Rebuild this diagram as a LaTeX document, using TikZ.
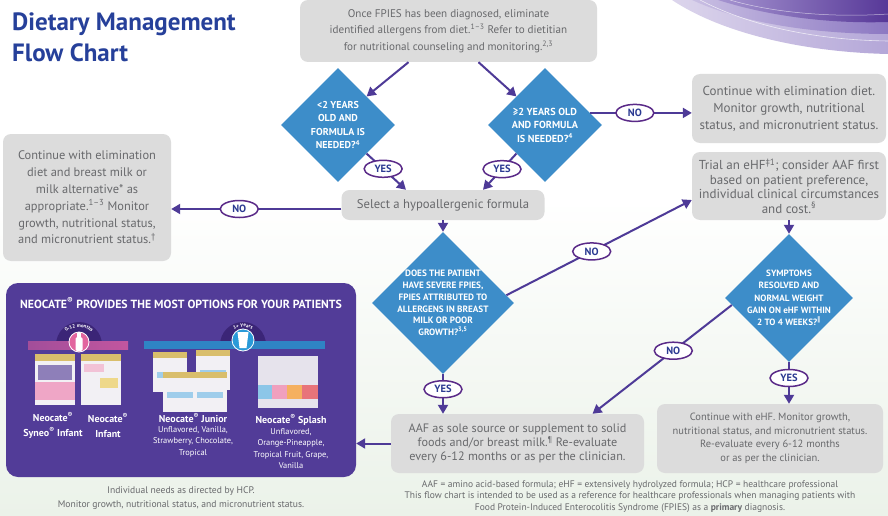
\documentclass[tikz,border=0pt]{standalone}
\usepackage{fontspec}
\setmainfont{PT Sans}
\newfontfamily\symfont{DejaVu Sans}
\usetikzlibrary{arrows.meta,shapes.geometric,decorations.text}

\definecolor{titleblue}{HTML}{26409A}
\definecolor{boxgray}{HTML}{DCDCDC}
\definecolor{textgray}{HTML}{68696C}
\definecolor{diablue}{HTML}{3D8DC9}
\definecolor{arrpurple}{HTML}{4E3A97}
\definecolor{ovalpurple}{HTML}{5A2A88}
\definecolor{yesblue}{HTML}{2B3A92}
\definecolor{panelpurple}{HTML}{523C98}
\definecolor{bggreen}{HTML}{EBF2E9}
\definecolor{swirlA}{HTML}{DCD5EC}
\definecolor{swirlB}{HTML}{B4A7D8}
\definecolor{swirlC}{HTML}{C9BFE3}
\definecolor{swirlD}{HTML}{8C78C2}
\definecolor{swirlE}{HTML}{A594D0}
\definecolor{swirlF}{HTML}{573898}
\definecolor{badgedark}{HTML}{3B2577}
\definecolor{badgepink}{HTML}{E2649E}
\definecolor{barpinkL}{HTML}{A24E9A}
\definecolor{barpinkR}{HTML}{C2569F}
\definecolor{barblue}{HTML}{2F84C4}
\definecolor{badgeblue}{HTML}{2A9AD8}
\definecolor{canwhite}{HTML}{F2F0F4}
\definecolor{cangold}{HTML}{D9BE6C}
\definecolor{synpurple}{HTML}{8E7FB9}
\definecolor{synpink}{HTML}{EFA6C6}
\definecolor{infpink}{HTML}{F2C2D6}
\definecolor{canyellow}{HTML}{EED88A}
\definecolor{jrblue}{HTML}{9FCDEB}
\definecolor{cartonwhite}{HTML}{E6E3EC}
\definecolor{splblue}{HTML}{8CC6E8}
\definecolor{splpink}{HTML}{F0A0BE}
\definecolor{splorange}{HTML}{F5B060}
\definecolor{splred}{HTML}{E8747A}

\begin{document}
\begin{tikzpicture}[x=1pt,y=-1pt,
    graybox/.style={fill=boxgray, rounded corners=8pt, text=textgray, align=center, inner sep=0pt},
    ask/.style={shape=diamond, fill=diablue, text=white, align=center, inner sep=-14pt},
    arr/.style={arrpurple, line width=2pt, -{Triangle[length=9pt,width=10pt]}},
    yesno/.style={ellipse, draw=ovalpurple, line width=1.5pt, fill=white, text=yesblue,
        font=\fontsize{10.5}{10.5}\selectfont\bfseries, minimum width=38pt, minimum height=17pt, inner sep=0pt},
    prodname/.style={text=white, align=center, inner sep=0pt, font=\fontsize{10}{14.5}\selectfont\bfseries},
    prodflav/.style={text=white, align=center, inner sep=0pt, anchor=north, font=\fontsize{8.4}{11.5}\selectfont},
    note/.style={text=textgray, align=center, inner sep=0pt}]

\useasboundingbox (0,0) rectangle (888,516);
\fill[white] (0,0) rectangle (888,200);
\shade[top color=white, bottom color=bggreen] (0,199) rectangle (888,516);

% swirl top right
\shade[left color=swirlA, right color=swirlB] (672,0) .. controls (720,32) and (800,52) .. (888,54) -- (888,0) -- cycle;
\shade[left color=swirlC, right color=swirlD] (692,0) .. controls (740,22) and (810,34) .. (888,34) -- (888,0) -- cycle;
\shade[left color=swirlE, right color=swirlF] (718,0) .. controls (765,15) and (825,24) .. (888,22) -- (888,0) -- cycle;
\draw[white, line width=0.6pt, opacity=0.7] (700,0) .. controls (750,26) and (815,40) .. (888,41);
\draw[white, line width=0.5pt, opacity=0.6] (730,0) .. controls (770,12) and (830,18) .. (888,14);

\node[anchor=north west, inner sep=0pt, align=left, text=titleblue, font=\fontsize{25}{31}\selectfont\bfseries] (title) at (12,12.5) {Dietary Management\\Flow Chart};

\node[graybox, minimum width=297pt, minimum height=62pt, font=\fontsize{11.1}{16.5}\selectfont] (diag) at (448.5,31)
    {Once FPIES has been diagnosed, eliminate\\identified allergens from diet.\textsuperscript{1–3} Refer to dietitian\\for nutritional counseling and monitoring.\textsuperscript{2,3}};
\node[ask, minimum size=114pt, font=\fontsize{10}{13.5}\selectfont\bfseries] (young) at (338,125) {<2 YEARS\\OLD AND\\FORMULA IS\\NEEDED?\textsuperscript{4}};
\node[ask, minimum size=114pt, font=\fontsize{10.2}{13.5}\selectfont\bfseries] (older) at (545,125) {≥2 YEARS OLD\\AND FORMULA\\IS NEEDED?\textsuperscript{4}};
\node[graybox, minimum width=194pt, minimum height=69pt, font=\fontsize{13}{17}\selectfont] (contelim) at (789,108.5)
    {Continue with elimination diet.\\Monitor growth, nutritional\\status, and micronutrient status.};
\node[graybox, minimum width=194pt, minimum height=68pt, font=\fontsize{13}{14.5}\selectfont] (trial) at (789,186)
    {Trial an eHF\textsuperscript{‡1}; consider AAF first\\based on patient preference,\\individual clinical circumstances\\and cost.\textsuperscript{§}};
\node[graybox, minimum width=168pt, minimum height=127pt, font=\fontsize{12.4}{16.8}\selectfont] (contmilk) at (87,197.5)
    {Continue with elimination\\diet and breast milk or\\milk alternative* as\\appropriate.\textsuperscript{1–3} Monitor\\growth, nutritional status,\\and micronutrient status.\textsuperscript{†}};
\node[graybox, minimum width=203pt, minimum height=30pt, font=\fontsize{12.7}{14}\selectfont] (select) at (443,205) {Select a hypoallergenic formula};
\node[ask, minimum size=142pt, font=\fontsize{9.2}{11.8}\selectfont\bfseries] (severe) at (443,303)
    {DOES THE PATIENT\\HAVE SEVERE FPIES,\\FPIES ATTRIBUTED TO\\ALLERGENS IN BREAST\\MILK OR POOR\\GROWTH?\textsuperscript{3,5}};
\node[ask, minimum size=128pt, font=\fontsize{9.1}{12.3}\selectfont\bfseries] (resolved) at (789,298)
    {SYMPTOMS\\RESOLVED AND\\NORMAL WEIGHT\\GAIN ON eHF WITHIN\\2 TO 4 WEEKS?\textsuperscript{\symfont ‖}};
\node[graybox, minimum width=253pt, minimum height=59pt, font=\fontsize{12.2}{14.2}\selectfont] (aaf) at (517.5,443.5)
    {AAF as sole source or supplement to solid\\foods and/or breast milk.\textsuperscript{¶} Re-evaluate\\every 6-12 months or as per the clinician.};
\node[graybox, minimum width=226pt, minimum height=69pt, font=\fontsize{10.5}{13.5}\selectfont] (conteHF) at (770,438.5)
    {Continue with eHF. Monitor growth,\\nutritional status, and micronutrient status.\\Re-evaluate every 6-12 months\\or as per the clinician.};
\node[fill=panelpurple, rounded corners=12pt, minimum width=350pt, minimum height=194pt] (options) at (181,380) {};

\draw[arr] ([xshift=-40pt]diag.south) -- (young.north east);
\draw[arr] ([xshift=30pt]diag.south) -- (older.north west);
\draw[arr] (young.south east) -- node[yesno, pos=0.42] {YES} ([xshift=-37pt]select.north);
\draw[arr] (older.south west) -- node[yesno, pos=0.43] {YES} ([xshift=40pt]select.north);
\draw[arr] (older.15) -- node[yesno, pos=0.44] {NO} (older.15 -| contelim.west);
\draw[arr] ([yshift=-4pt]select.west) -- node[yesno, pos=0.6] {NO} ([yshift=-4pt]select.west -| contmilk.east);
\draw[arr] (select.south) -- (severe.north);
\draw[arr] (severe.7) -- node[yesno, pos=0.46] {NO} ([yshift=-14pt]trial.west);
\draw[arr] (trial.south) -- (resolved.north);
\draw[arr] (resolved.187) -- node[yesno, pos=0.42] {NO} ([xshift=75pt]aaf.north);
\draw[arr] (resolved.south) -- node[yesno, pos=0.38] {YES} (resolved.south |- conteHF.north);
\draw[arr] (severe.south) -- node[yesno, pos=0.38] {YES} (severe.south |- aaf.north);
\draw[arr] (aaf.west) -- (aaf.west -| options.east);

\node[text=white, inner sep=0pt, font=\fontsize{11.8}{13}\selectfont\bfseries] (optstitle) at (181,303)
    {NEOCATE\textsuperscript{®} PROVIDES THE MOST OPTIONS FOR YOUR PATIENTS};

% 0-12 months
\fill[badgedark] (56,345) arc[start angle=180, end angle=360, radius=23] -- cycle;
\shade[left color=barpinkL, right color=barpinkR] (28,341) rectangle (128,349);
\fill[badgepink, draw=white, line width=0.8pt] (79,342) circle (10);
\fill[white, rounded corners=1.5pt] (75.5,337) rectangle (82.5,351);
\fill[white, rounded corners=1pt] (77.2,332) rectangle (80.8,338);
\path[decorate, decoration={text along path, text color=white, text align=center,
    text={|\fontsize{5}{5}\selectfont\bfseries|0-12 months}}] (61,345) arc[start angle=180, end angle=360, radius=18];
\fill[canwhite] (35,358) rectangle (75,405);
\fill[cangold] (35,354) rectangle (75,361);
\fill[synpurple] (38,365) rectangle (72,380);
\fill[synpink] (35,382) rectangle (75,400);
\fill[canwhite] (81,358) rectangle (121,405);
\fill[cangold] (81,354) rectangle (121,361);
\fill[infpink] (84,364) rectangle (104,372);
\fill[canyellow] (100,378) rectangle (118,388);

% 1+ years
\fill[badgedark] (220,345) arc[start angle=180, end angle=360, radius=23] -- cycle;
\fill[barblue] (144,341) rectangle (325,349);
\fill[badgeblue, draw=white, line width=0.8pt] (243,340) circle (11);
\fill[white] (237.5,332) -- (248.5,332) -- (246.5,348) -- (239.5,348) -- cycle;
\path[decorate, decoration={text along path, text color=white, text align=center,
    text={|\fontsize{5}{5}\selectfont\bfseries|1+ Years}}] (225,345) arc[start angle=180, end angle=360, radius=18];
\foreach \cx/\cy in {153/352, 196/350, 163/372, 193/372} {
    \fill[canwhite] (\cx,\cy+4) rectangle ++(34,36);
    \fill[cangold] (\cx,\cy) rectangle ++(34,6);
    \fill[jrblue] (\cx+4,\cy+20) rectangle ++(26,6);
}
\foreach \cx/\col in {258/splblue, 272/splpink, 287/splorange, 302/splred} {
    \fill[cartonwhite] (\cx,356) rectangle ++(16,52);
    \fill[\col] (\cx,385) rectangle ++(16,14);
}

\node[prodname] (syneo) at (53,425.5) {Neocate\textsuperscript{®}\\Syneo\textsuperscript{®} Infant};
\node[prodname] (infant) at (108,425.5) {Neocate\textsuperscript{®}\\Infant};
\node[prodname] (junior) at (193,418) {Neocate\textsuperscript{®} Junior};
\node[prodflav] (juniorflav) at (193,426) {Unflavored, Vanilla,\\Strawberry, Chocolate,\\Tropical};
\node[prodname] (splash) at (291,420) {Neocate\textsuperscript{®} Splash};
\node[prodflav] (splashflav) at (291,428) {Unflavored,\\Orange-Pineapple,\\Tropical Fruit, Grape,\\Vanilla};

\node[note, font=\fontsize{9.6}{14}\selectfont] (needs) at (181,498)
    {Individual needs as directed by HCP.\\Monitor growth, nutritional status, and micronutrient status.};
\node[note, font=\fontsize{9.5}{11.5}\selectfont] (abbrev) at (630,496.5)
    {AAF = amino acid-based formula; eHF = extensively hydrolyzed formula; HCP = healthcare professional\\
     This flow chart is intended to be used as a reference for healthcare professionals when managing patients with\\
     Food Protein-Induced Enterocolitis Syndrome (FPIES) as a \textbf{primary} diagnosis.};
\end{tikzpicture}
\end{document}
